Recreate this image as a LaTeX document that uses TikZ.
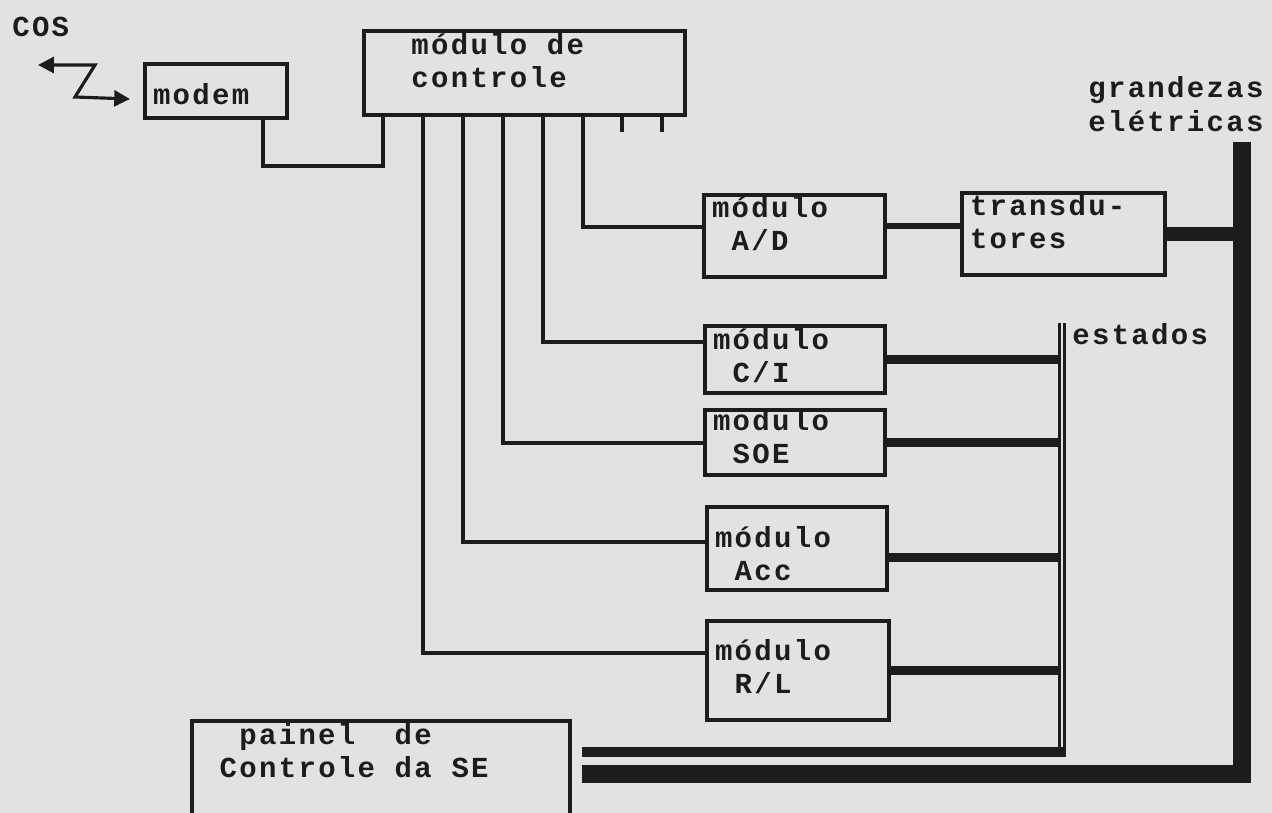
\documentclass[tikz,border=0pt]{standalone}
\usepackage{fontspec}
\usetikzlibrary{arrows.meta}
\newfontfamily\prtfont{Liberation Mono}[LetterSpace=8]
\newcommand{\pxu}{0.56905pt}
\newcommand{\chsp}{\hspace*{11.2pt}}
\definecolor{paper}{RGB}{226,226,226}
\definecolor{ink}{RGB}{28,28,28}

\begin{document}
\begin{tikzpicture}[x=0.02cm, y=-0.02cm,
  every node/.style={font=\prtfont\bfseries\fontsize{16.5pt}{18.8pt}\selectfont, text=ink},
  mbox/.style n args={3}{draw=ink, line width=2.3pt, anchor=north west, align=left,
    inner xsep=4.55pt, inner ysep=0pt, text width={(#1-16)*\pxu},
    text height={#3*\pxu}, text depth={(#2-#3)*\pxu}},
  lbl/.style={inner sep=0pt, anchor=base west, align=left},
  wire/.style={draw=ink, line width=1.8pt},
  stlink/.style={draw=ink, line width=4.6pt},
  stbus/.style={draw=ink, line width=1.6pt, double=paper, double distance=1.2pt}]

\path[use as bounding box, fill=paper] (0,0) rectangle (1272,813);
\clip (0,0) rectangle (1272,813);

% top row
\node[lbl] (cos) at (12,37) {COS};
\coordinate (cosend) at (38,65);
\node[mbox={142}{54}{40}] (modem) at (143,62) {modem};
\node[mbox={321}{84}{23}] (ctl) at (362,29) {\chsp\chsp módulo\chsp de\\\chsp\chsp controle};

% modules
\node[mbox={181}{82}{22}] (ad) at (702,193) {módulo\\\chsp A/D};
\node[mbox={203}{82}{22}] (tr) at (960,191) {transdu-\\tores};
\node[mbox={180}{67}{23}] (ci) at (703,324) {módulo\\\chsp C/I};
\node[mbox={180}{65}{20}] (soe) at (703,408) {modulo\\\chsp SOE};
\node[mbox={180}{83}{40}] (acc) at (705,505) {módulo\\\chsp Acc};
\node[mbox={182}{99}{39}] (rl) at (705,619) {módulo\\\chsp R/L};
\node[mbox={378}{140}{23}] (pnl) at (190,719) {\chsp\chsp painel\chsp\chsp de\\\chsp Controle\chsp da\chsp SE};

% bus labels
\node[lbl] (est) at (1072,345) {estados};
\node[lbl, text width=190*\pxu] (gr) at (1088,98) {grandezas\\elétricas};
\coordinate (bartop) at (1242,142);
\coordinate (st) at (1062,323);

% modem link and Z arrow
\draw[wire, <->, >={Triangle[length=9pt,width=9pt]}] (cosend) -- ++(57,0) -- ++(-20,32) -- ([shift={(-13,8)}]modem.west);
\draw[wire] ([shift={(120,0)}]modem.south west) -- ++(0,46) -| ([shift={(21,0)}]ctl.south west);

% control taps
\draw[wire] ([shift={(61,0)}]ctl.south west) |- ([shift={(0,34)}]rl.north west);
\draw[wire] ([shift={(101,0)}]ctl.south west) |- ([shift={(0,37)}]acc.north west);
\draw[wire] ([shift={(141,0)}]ctl.south west) |- ([shift={(0,35)}]soe.north west);
\draw[wire] ([shift={(181,0)}]ctl.south west) |- ([shift={(0,18)}]ci.north west);
\draw[wire] ([shift={(221,0)}]ctl.south west) |- ([shift={(0,34)}]ad.north west);
\foreach \dx in {260,300}
  \draw[wire] ([shift={(\dx,0)}]ctl.south west) -- ++(0,15);

% analog side
\path ([shift={(0,-10)}]ad.east) coordinate (adout);
\draw[draw=ink, line width=3.4pt] (adout) -- (adout -| tr.west);
\draw[draw=ink, line width=8.5pt] (tr.east) -- (tr.east -| bartop);

% estados
\path ([shift={(0,9)}]acc.east) coordinate (accout);
\foreach \m in {ci,soe,rl}
  \draw[stlink] (\m.east) -- (\m.east -| st);
\draw[stlink] (accout) -- (accout -| st);
\path ([shift={(10,33)}]pnl.north east) coordinate (pout1)
      ([shift={(10,55)}]pnl.north east) coordinate (pout2);
\path (pout1 -| st) ++(4,0) coordinate (pend);
\draw[stbus] (st) -- (pout1 -| st);
\draw[draw=ink, line width=5.7pt] (pout1) -- (pend);

% grandezas
\draw[draw=ink, line width=10.2pt] (bartop) |- (pout2);

\end{tikzpicture}
\end{document}
